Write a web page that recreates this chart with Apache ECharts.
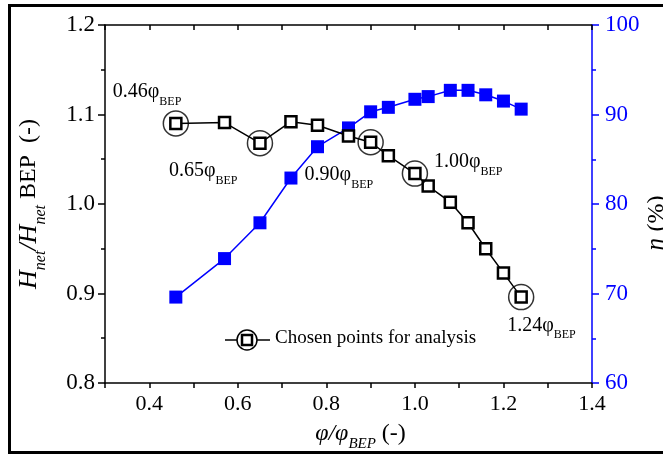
<!DOCTYPE html>
<html>
<head>
<meta charset="utf-8">
<script src="https://cdn.jsdelivr.net/npm/echarts@6/dist/echarts.min.js"></script>
<style>
  html, body { margin: 0; padding: 0; background: #fff; }
  #chart { width: 663px; height: 456px; }
</style>
</head>
<body>
<div id="chart"></div>
<script>
// flow ratio phi/phi_BEP
const flowRatio = [0.46, 0.57, 0.65, 0.72, 0.78, 0.85, 0.90, 0.94, 1.00, 1.03, 1.08, 1.12, 1.16, 1.20, 1.24];
// Hnet / Hnet BEP (left axis)
const headRatio = [1.090, 1.091, 1.068, 1.092, 1.088, 1.076, 1.069, 1.054, 1.034, 1.020, 1.002, 0.979, 0.950, 0.923, 0.896];
// efficiency eta % (right axis)
const efficiency = [69.6, 73.9, 77.9, 82.9, 86.4, 88.5, 90.3, 90.8, 91.7, 92.0, 92.7, 92.7, 92.2, 91.5, 90.6];
// points circled for analysis
const chosenFlow = [0.46, 0.65, 0.90, 1.00, 1.24];
const legendText = 'Chosen points for analysis';

const serif = 'Liberation Serif';
const chart = echarts.init(document.getElementById('chart'));

const headData = flowRatio.map((x, i) => [x, headRatio[i]]);
const effData = flowRatio.map((x, i) => [x, efficiency[i]]);

// label offsets for the circled points (px, relative to circle centre)
const labelShift = [[-28, -31], [-56, 28], [-31, 33], [54, -11], [21, 29]];
const chosenData = chosenFlow.map((x, i) => ({
  value: [x, headRatio[flowRatio.indexOf(x)]],
  label: {offset: labelShift[i]}
}));

chart.setOption({
  animation: false,
  grid: {left: 105, right: 71, top: 25, bottom: 73, outerBoundsMode: 'none', containLabel: false},
  xAxis: [
    {
      type: 'value', min: 0.3, max: 1.4, interval: 0.1,
      name: '{i|φ/φ}{s|BEP}{n| (-)}',
      nameLocation: 'middle', nameGap: 38,
      nameTextStyle: {
        padding: [0, 0, 0, 24],
        rich: {
          i: {fontFamily: serif, fontStyle: 'italic', fontSize: 24, color: '#000', lineHeight: 26},
          s: {fontFamily: serif, fontStyle: 'italic', fontSize: 15, color: '#000', lineHeight: 15, verticalAlign: 'bottom', padding: [0, 0, -5, 0]},
          n: {fontFamily: serif, fontSize: 24, color: '#000', lineHeight: 26}
        }
      },
      axisLine: {lineStyle: {color: '#000', width: 1.5}},
      axisTick: {inside: false, length: 5, lineStyle: {color: '#000', width: 1.5}},
      axisLabel: {
        fontFamily: serif, fontSize: 22, color: '#000', margin: 10,
        formatter: v => (Math.round(v * 10) % 2 === 0 ? v.toFixed(1) : '')
      },
      splitLine: {show: false}
    },
    {
      type: 'value', position: 'top', min: 0.3, max: 1.4, interval: 0.1,
      axisLine: {lineStyle: {color: '#000', width: 1.5}},
      axisTick: {inside: true, length: 5, lineStyle: {color: '#000', width: 1.5}},
      axisLabel: {show: false},
      splitLine: {show: false}
    }
  ],
  yAxis: [
    {
      type: 'value', min: 0.8, max: 1.2, interval: 0.1,
      name: '{i|H}{s|net}{i|/H}{s|net}{n| BEP  (-)}',
      nameLocation: 'middle', nameGap: 62, nameRotate: 90,
      nameTextStyle: {
        rich: {
          i: {fontFamily: serif, fontStyle: 'italic', fontSize: 26, color: '#000', lineHeight: 28},
          s: {fontFamily: serif, fontStyle: 'italic', fontSize: 16, color: '#000', lineHeight: 16, verticalAlign: 'bottom', padding: [0, 0, -6, 0]},
          n: {fontFamily: serif, fontSize: 24, color: '#000', lineHeight: 28}
        }
      },
      axisLine: {show: true, lineStyle: {color: '#000', width: 1.5}},
      axisTick: {length: 7, lineStyle: {color: '#000', width: 1.5}},
      minorTick: {show: true, splitNumber: 2, length: 4, lineStyle: {color: '#000', width: 1.5}},
      axisLabel: {fontFamily: serif, fontSize: 23, color: '#000', margin: 10, formatter: v => v.toFixed(1)},
      splitLine: {show: false}
    },
    {
      type: 'value', min: 60, max: 100, interval: 10, position: 'right',
      name: '{i|η}  {n|(%)}',
      nameLocation: 'middle', nameGap: 52, nameRotate: 90, nameMoveOverlap: false,
      nameTextStyle: {
        padding: [0, 38, 0, 0],
        rich: {
          i: {fontFamily: serif, fontStyle: 'italic', fontSize: 25, color: '#000'},
          n: {fontFamily: serif, fontSize: 24, color: '#000'}
        }
      },
      axisLine: {show: true, lineStyle: {color: '#0000ff', width: 1.5}},
      axisTick: {length: 7, lineStyle: {color: '#0000ff', width: 1.5}},
      minorTick: {show: true, splitNumber: 2, length: 4, lineStyle: {color: '#0000ff', width: 1.5}},
      axisLabel: {fontFamily: serif, fontSize: 23, color: '#0000ff', margin: 13},
      splitLine: {show: false}
    }
  ],
  series: [
    {
      name: 'efficiency', type: 'line', yAxisIndex: 1, data: effData,
      symbol: 'rect', symbolSize: 13,
      itemStyle: {color: '#0000ff'},
      lineStyle: {color: '#0000ff', width: 1.5},
      z: 2
    },
    {
      name: 'head', type: 'line', yAxisIndex: 0, data: headData,
      symbol: 'rect', symbolSize: 11,
      itemStyle: {color: '#fff', borderColor: '#000', borderWidth: 2.5},
      lineStyle: {color: '#000', width: 1.5},
      z: 3
    },
    {
      name: legendText, type: 'scatter', yAxisIndex: 0, data: chosenData,
      symbol: 'circle', symbolSize: 25,
      itemStyle: {color: 'rgba(0,0,0,0)', borderColor: '#000', borderWidth: 1.5},
      label: {
        show: true, position: [12.5, 12.5], align: 'center', verticalAlign: 'middle',
        color: '#000', opacity: 1,
        formatter: p => '{n|' + p.value[0].toFixed(2) + 'φ}{s|BEP}',
        rich: {
          n: {fontFamily: serif, fontSize: 20, color: '#000', lineHeight: 22},
          s: {fontFamily: serif, fontSize: 12, color: '#000', lineHeight: 12, verticalAlign: 'bottom', padding: [0, 0, -5, 0]}
        }
      },
      z: 4
    }
  ],
  graphic: [
    {type: 'rect', shape: {x: 9.5, y: 5.5, width: 700, height: 447}, style: {fill: 'none', stroke: '#000', lineWidth: 3}, silent: true},
    {type: 'line', shape: {x1: 225, y1: 340, x2: 270, y2: 340}, style: {stroke: '#000', lineWidth: 1.5}},
    {type: 'circle', shape: {cx: 247, cy: 340, r: 10}, style: {fill: '#fff', stroke: '#000', lineWidth: 1.5}},
    {type: 'rect', shape: {x: 242, y: 335, width: 10, height: 10}, style: {fill: '#fff', stroke: '#000', lineWidth: 2.5}},
    {type: 'text', left: 275, top: 329, style: {text: legendText, font: '19px "Liberation Serif"', fill: '#000'}}
  ]
});
</script>
</body>
</html>
